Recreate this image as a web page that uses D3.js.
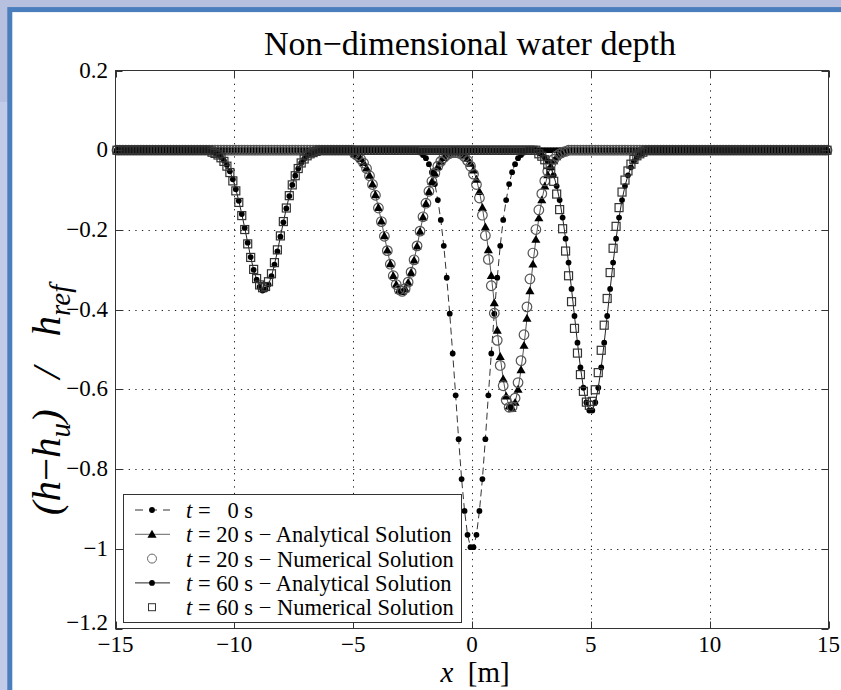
<!DOCTYPE html>
<html>
<head>
<meta charset="utf-8">
<script src="https://cdn.jsdelivr.net/npm/d3@7"></script>
<style>
body { margin: 0; background: #b8c0e0; }
svg { display: block; font-family: "Liberation Serif", "Times New Roman", serif; }
</style>
</head>
<body>
<div id="chart"></div>
<script>
// axis ticks
var xTicks = [-15, -10, -5, 0, 5, 10, 15];
var yTicks = [0.2, 0, -0.2, -0.4, -0.6, -0.8, -1, -1.2];
var yTickLabels = ["0.2", "0", "\u22120.2", "\u22120.4", "\u22120.6", "\u22120.8", "\u22121", "\u22121.2"];

// 240 cells of 0.125 m, values are at cell centres
var cellWidth = 0.125;
var xGrid = d3.range(240).map(function(i) { return -14.9375 + i * cellWidth; });

// non-zero stretches (outside them the depth is 0)
var t0Start = -2.1875;
var t0Values = [-0.006, -0.012, -0.020, -0.035, -0.055, -0.085, -0.125, -0.175, -0.240, -0.320, -0.410, -0.510,
    -0.615, -0.725, -0.825, -0.905, -0.965, -0.996, -0.996, -0.965, -0.905, -0.825, -0.725, -0.615,
    -0.510, -0.410, -0.320, -0.240, -0.175, -0.125, -0.085, -0.055, -0.035, -0.020, -0.012, -0.006];

var t20Start = -4.9375;
var t20Analytical = [-0.009, -0.014, -0.021, -0.031, -0.045, -0.063, -0.085, -0.112, -0.144, -0.178, -0.215, -0.251,
    -0.285, -0.315, -0.337, -0.351, -0.355, -0.348, -0.332, -0.307, -0.276, -0.241, -0.204, -0.168,
    -0.134, -0.104, -0.079, -0.058, -0.041, -0.028, -0.019, -0.012,
    -0.008, -0.005, -0.005, -0.006,
    -0.008, -0.013, -0.021, -0.033, -0.050, -0.073, -0.104, -0.144, -0.193, -0.250, -0.315, -0.383,
    -0.452, -0.518, -0.574, -0.617, -0.642, -0.648, -0.633, -0.600, -0.551, -0.490, -0.422, -0.353,
    -0.286, -0.224, -0.170, -0.125, -0.090, -0.062, -0.042, -0.027, -0.017, -0.010, -0.006, -0.003];
var t20Numerical = [-0.009, -0.014, -0.022, -0.032, -0.046, -0.064, -0.086, -0.113, -0.145, -0.179, -0.216, -0.252,
    -0.286, -0.315, -0.337, -0.350, -0.354, -0.347, -0.331, -0.306, -0.275, -0.240, -0.203, -0.167,
    -0.133, -0.103, -0.078, -0.057, -0.040, -0.028, -0.019, -0.012,
    -0.008, -0.006, -0.006, -0.007,
    -0.010, -0.016, -0.026, -0.040, -0.060, -0.086, -0.120, -0.163, -0.214, -0.274, -0.340, -0.409,
    -0.477, -0.540, -0.591, -0.627, -0.645, -0.644, -0.622, -0.583, -0.528, -0.463, -0.393, -0.323,
    -0.258, -0.199, -0.150, -0.109, -0.077, -0.053, -0.035, -0.023, -0.014, -0.009, -0.005, -0.003];

var t60LeftStart = -10.9375;
var t60RightStart = 2.8125;
var t60AnalyticalLeft = [-0.004, -0.007, -0.011, -0.017, -0.026, -0.037, -0.053, -0.073, -0.098, -0.127, -0.160, -0.195,
    -0.232, -0.268, -0.300, -0.325, -0.343, -0.352, -0.349, -0.337, -0.316, -0.287, -0.254, -0.217,
    -0.181, -0.146, -0.115, -0.087, -0.064, -0.046, -0.032, -0.022, -0.014, -0.009, -0.006, -0.003];
var t60AnalyticalRight = [-0.007, -0.011, -0.018, -0.028, -0.043, -0.063, -0.090, -0.125, -0.169, -0.222, -0.282, -0.348,
    -0.416, -0.483, -0.545, -0.596, -0.633, -0.653, -0.653, -0.633, -0.596, -0.545, -0.483, -0.416,
    -0.348, -0.282, -0.222, -0.169, -0.125, -0.090, -0.063, -0.043, -0.028, -0.018, -0.011, -0.007];
var t60NumericalLeft = [-0.005, -0.008, -0.012, -0.019, -0.028, -0.040, -0.056, -0.077, -0.102, -0.131, -0.164, -0.199,
    -0.235, -0.269, -0.299, -0.322, -0.338, -0.345, -0.342, -0.330, -0.310, -0.282, -0.250, -0.215,
    -0.179, -0.145, -0.114, -0.087, -0.064, -0.046, -0.032, -0.022, -0.014, -0.009, -0.006, -0.003];
var t60NumericalRight = [-0.009, -0.015, -0.024, -0.036, -0.054, -0.078, -0.110, -0.149, -0.197, -0.253, -0.315, -0.380,
    -0.447, -0.509, -0.563, -0.605, -0.632, -0.640, -0.630, -0.601, -0.558, -0.502, -0.439, -0.372,
    -0.307, -0.246, -0.191, -0.144, -0.105, -0.075, -0.052, -0.035, -0.023, -0.014, -0.009, -0.005];

var legendLabels = [
    ["t", " =   0 s"],
    ["t", " = 20 s \u2212 Analytical Solution"],
    ["t", " = 20 s \u2212 Numerical Solution"],
    ["t", " = 60 s \u2212 Analytical Solution"],
    ["t", " = 60 s \u2212 Numerical Solution"]
];

function buildSeries(segments) {
    return xGrid.map(function(x) {
        var y = 0;
        segments.forEach(function(s) {
            var k = Math.round((x - s[0]) / cellWidth);
            if (k >= 0 && k < s[1].length) y = s[1][k];
        });
        return {x: x, y: y};
    });
}

var sT0 = buildSeries([[t0Start, t0Values]]);
var sT20a = buildSeries([[t20Start, t20Analytical]]);
var sT20n = buildSeries([[t20Start, t20Numerical]]);
var sT60a = buildSeries([[t60LeftStart, t60AnalyticalLeft], [t60RightStart, t60AnalyticalRight]]);
var sT60n = buildSeries([[t60LeftStart, t60NumericalLeft], [t60RightStart, t60NumericalRight]]);

var W = 841, H = 690;
var plot = {left: 115.5, right: 828.5, top: 70.5, bottom: 628.5};

var svg = d3.select("#chart").append("svg")
    .attr("width", W)
    .attr("height", H);

// slide frame
svg.append("rect").attr("width", W).attr("height", H).attr("fill", "#b8c0e0");
svg.append("rect").attr("x", 0).attr("y", 102).attr("width", 8).attr("height", H - 102).attr("fill", "#c2cbe8");
svg.append("rect")
    .attr("x", 9.8).attr("y", 9.6)
    .attr("width", W + 20).attr("height", H + 20)
    .attr("fill", "#fff")
    .attr("stroke", "#4a7ebd")
    .attr("stroke-width", 5);

var x = d3.scaleLinear().domain([-15, 15]).range([plot.left, plot.right]);
var y = d3.scaleLinear().domain([-1.2, 0.2]).range([plot.bottom, plot.top]);

// grid
var grid = svg.append("g")
    .attr("stroke", "#222")
    .attr("stroke-width", 1)
    .attr("stroke-dasharray", "1.3,5.3");
grid.selectAll(".gx").data(xTicks.slice(1, -1)).enter().append("line")
    .attr("x1", function(d) { return Math.round(x(d)) + 0.5; })
    .attr("x2", function(d) { return Math.round(x(d)) + 0.5; })
    .attr("y1", plot.top).attr("y2", plot.bottom);
grid.selectAll(".gy").data(yTicks.slice(1, -1)).enter().append("line")
    .attr("y1", function(d) { return Math.round(y(d)) + 0.5; })
    .attr("y2", function(d) { return Math.round(y(d)) + 0.5; })
    .attr("x1", plot.left).attr("x2", plot.right);

var line = d3.line()
    .x(function(d) { return x(d.x); })
    .y(function(d) { return y(d.y); });

var data = svg.append("g");
var dotR = 2.9, circR = 4.8, sq = 8;

// t = 0 s : dashed with dots
data.append("path").datum(sT0)
    .attr("d", line).attr("fill", "none")
    .attr("stroke", "#333").attr("stroke-width", 1)
    .attr("stroke-dasharray", "7,4");
data.append("g").selectAll("circle").data(sT0).enter().append("circle")
    .attr("cx", function(d) { return x(d.x); })
    .attr("cy", function(d) { return y(d.y); })
    .attr("r", dotR).attr("fill", "#000");

// t = 20 s analytical : line with triangles
var tri = d3.symbol().type(d3.symbolTriangle).size(36);
data.append("path").datum(sT20a)
    .attr("d", line).attr("fill", "none")
    .attr("stroke", "#555").attr("stroke-width", 1);
data.append("g").selectAll("path").data(sT20a).enter().append("path")
    .attr("d", tri)
    .attr("transform", function(d) { return "translate(" + x(d.x) + "," + (y(d.y) + 0.7) + ")"; })
    .attr("fill", "#000");

// t = 20 s numerical : open circles
data.append("g").selectAll("circle").data(sT20n).enter().append("circle")
    .attr("cx", function(d) { return x(d.x); })
    .attr("cy", function(d) { return y(d.y); })
    .attr("r", circR).attr("fill", "none")
    .attr("stroke", "#555").attr("stroke-width", 1.2);

// t = 60 s analytical : line with dots
data.append("path").datum(sT60a)
    .attr("d", line).attr("fill", "none")
    .attr("stroke", "#222").attr("stroke-width", 1);
data.append("g").selectAll("circle").data(sT60a).enter().append("circle")
    .attr("cx", function(d) { return x(d.x); })
    .attr("cy", function(d) { return y(d.y); })
    .attr("r", dotR).attr("fill", "#000");

// t = 60 s numerical : open squares
data.append("g").selectAll("rect").data(sT60n).enter().append("rect")
    .attr("x", function(d) { return x(d.x) - sq / 2; })
    .attr("y", function(d) { return y(d.y) - sq / 2; })
    .attr("width", sq).attr("height", sq)
    .attr("fill", "none").attr("stroke", "#333").attr("stroke-width", 1.2);

// axes box and inside ticks
var axisG = svg.append("g").attr("stroke", "#333").attr("stroke-width", 1).attr("fill", "none");
axisG.append("rect")
    .attr("x", plot.left).attr("y", plot.top)
    .attr("width", plot.right - plot.left).attr("height", plot.bottom - plot.top);
var tickLen = 7;
xTicks.forEach(function(t) {
    var px = Math.round(x(t)) + 0.5;
    axisG.append("line").attr("x1", px).attr("x2", px).attr("y1", plot.bottom).attr("y2", plot.bottom - tickLen);
    axisG.append("line").attr("x1", px).attr("x2", px).attr("y1", plot.top).attr("y2", plot.top + tickLen);
});
yTicks.forEach(function(t) {
    var py = Math.round(y(t)) + 0.5;
    axisG.append("line").attr("y1", py).attr("y2", py).attr("x1", plot.left).attr("x2", plot.left + tickLen);
    axisG.append("line").attr("y1", py).attr("y2", py).attr("x1", plot.right).attr("x2", plot.right - tickLen);
});

// tick labels
svg.append("g").selectAll("text").data(xTicks).enter().append("text")
    .attr("x", function(d) { return x(d); })
    .attr("y", 652)
    .attr("text-anchor", "middle")
    .style("font-size", "23px")
    .text(function(d) { return d < 0 ? "\u2212" + Math.abs(d) : String(d); });
svg.append("g").selectAll("text").data(yTicks).enter().append("text")
    .attr("x", 108)
    .attr("y", function(d) { return y(d) + (d === -1.2 ? 1 : 7); })
    .attr("text-anchor", "end")
    .style("font-size", "23px")
    .text(function(d, i) { return yTickLabels[i]; });

// title
svg.append("text")
    .attr("x", 470).attr("y", 55)
    .attr("text-anchor", "middle")
    .style("font-size", "34px")
    .text("Non\u2212dimensional water depth");

// x label
var xl = svg.append("text")
    .attr("x", 475).attr("y", 682)
    .attr("text-anchor", "middle")
    .style("font-size", "29px")
    .attr("xml:space", "preserve");
xl.append("tspan").style("font-style", "italic").text("x");
xl.append("tspan").text("  [m]");

// y label
var yl = svg.append("text")
    .attr("transform", "translate(60,400) rotate(-90)")
    .attr("text-anchor", "middle")
    .style("font-size", "41px")
    .style("font-style", "italic")
    .attr("xml:space", "preserve");
yl.append("tspan").text("(h");
yl.append("tspan").style("font-style", "normal").text("\u2212");
yl.append("tspan").text("h");
yl.append("tspan").attr("dy", 10).style("font-size", "29px").text("u");
yl.append("tspan").attr("dy", -10).text(")   /   h");
yl.append("tspan").attr("dy", 10).style("font-size", "29px").text("ref");

// legend
var lg = svg.append("g");
lg.append("rect")
    .attr("x", 123.5).attr("y", 494.5)
    .attr("width", 338).attr("height", 128)
    .attr("fill", "#fff").attr("stroke", "#333").attr("stroke-width", 1);
var rowY = function(i) { return 510 + i * 24.3; };
var symX = 152;

lg.append("line").attr("x1", 135).attr("x2", 170).attr("y1", rowY(0)).attr("y2", rowY(0))
    .attr("stroke", "#333").attr("stroke-dasharray", "8,6");
lg.append("circle").attr("cx", symX).attr("cy", rowY(0)).attr("r", dotR).attr("fill", "#000");

lg.append("line").attr("x1", 135).attr("x2", 170).attr("y1", rowY(1)).attr("y2", rowY(1))
    .attr("stroke", "#666");
lg.append("path").attr("d", tri).attr("transform", "translate(" + symX + "," + (rowY(1) + 0.7) + ")").attr("fill", "#000");

lg.append("circle").attr("cx", symX).attr("cy", rowY(2)).attr("r", 4.5)
    .attr("fill", "none").attr("stroke", "#666");

lg.append("line").attr("x1", 135).attr("x2", 170).attr("y1", rowY(3)).attr("y2", rowY(3))
    .attr("stroke", "#222");
lg.append("circle").attr("cx", symX).attr("cy", rowY(3)).attr("r", dotR).attr("fill", "#000");

lg.append("rect").attr("x", symX - 3.5).attr("y", rowY(4) - 3.5).attr("width", 7).attr("height", 7)
    .attr("fill", "none").attr("stroke", "#333");

legendLabels.forEach(function(l, i) {
    var t = lg.append("text")
        .attr("x", 186).attr("y", rowY(i) + 8)
        .style("font-size", "22.5px")
        .attr("xml:space", "preserve");
    t.append("tspan").style("font-style", "italic").text(l[0]);
    t.append("tspan").text(l[1]);
});
</script>
</body>
</html>
